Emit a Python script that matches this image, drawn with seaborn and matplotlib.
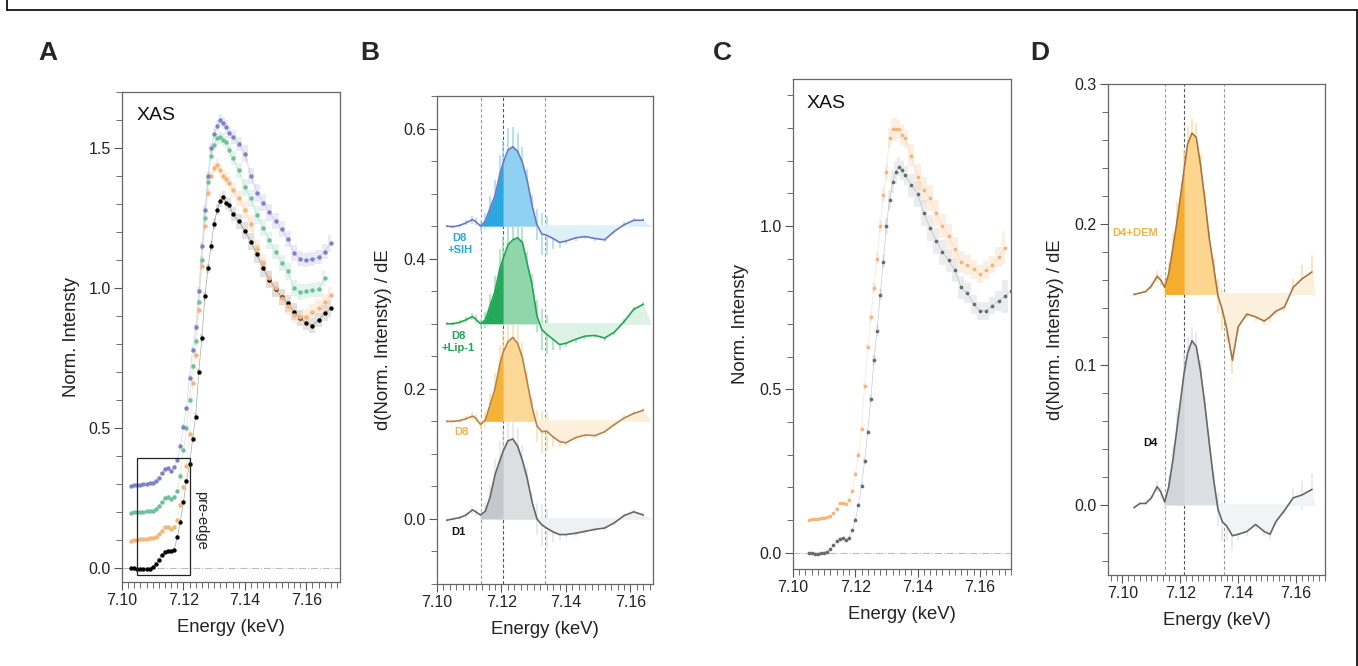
import numpy as np
import matplotlib
matplotlib.use('Agg')
import matplotlib.pyplot as plt
from matplotlib.lines import Line2D
from matplotlib.patches import Rectangle
from matplotlib.ticker import MultipleLocator, FormatStrFormatter
import seaborn as sns

sns.set_theme(style='white')
plt.rcParams['font.family'] = ['Liberation Sans', 'DejaVu Sans']

# ---------------- data ----------------
# Panel A: XAS spectra (offset by 0.1 each)
energy_a = [7.103, 7.104, 7.105, 7.106, 7.107, 7.108, 7.109, 7.110, 7.111, 7.112,
            7.113, 7.114, 7.115, 7.116, 7.117, 7.118, 7.119, 7.120, 7.121, 7.122,
            7.123, 7.124, 7.125, 7.126, 7.127, 7.128, 7.129, 7.130, 7.131, 7.132,
            7.133, 7.134, 7.135, 7.136, 7.138, 7.140, 7.142, 7.144, 7.146, 7.148,
            7.150, 7.152, 7.154, 7.156, 7.158, 7.160, 7.162, 7.164, 7.166, 7.168]
d1_xas = [0.000, 0.000, -0.003, -0.004, -0.004, -0.004, -0.002, 0.002, 0.015, 0.030,
          0.045, 0.058, 0.062, 0.062, 0.066, 0.110, 0.165, 0.235, 0.310, 0.370,
          0.460, 0.540, 0.700, 0.820, 0.970, 1.070, 1.150, 1.230, 1.280, 1.310,
          1.325, 1.302, 1.296, 1.265, 1.238, 1.205, 1.165, 1.120, 1.070, 1.030,
          0.995, 0.968, 0.945, 0.915, 0.893, 0.875, 0.866, 0.885, 0.910, 0.928]
d8_xas = [0.098, 0.100, 0.100, 0.102, 0.103, 0.105, 0.106, 0.108, 0.112, 0.120,
          0.132, 0.145, 0.148, 0.140, 0.148, 0.170, 0.225, 0.290, 0.365, 0.480,
          0.660, 0.760, 0.920, 1.080, 1.220, 1.340, 1.400, 1.430, 1.440, 1.420,
          1.400, 1.390, 1.375, 1.350, 1.320, 1.280, 1.230, 1.140, 1.090, 1.035,
          1.000, 0.965, 0.935, 0.905, 0.895, 0.898, 0.916, 0.930, 0.950, 0.975]
lip_xas = [0.198, 0.200, 0.200, 0.200, 0.201, 0.202, 0.203, 0.205, 0.210, 0.220,
           0.235, 0.250, 0.255, 0.245, 0.255, 0.275, 0.330, 0.420, 0.500, 0.600,
           0.720, 0.810, 0.950, 1.100, 1.250, 1.380, 1.470, 1.510, 1.535, 1.538,
           1.530, 1.520, 1.493, 1.464, 1.420, 1.360, 1.320, 1.260, 1.215, 1.170,
           1.130, 1.090, 1.060, 1.000, 0.985, 0.990, 0.993, 0.995, 1.035, np.nan]
sih_xas = [0.292, 0.295, 0.296, 0.298, 0.300, 0.301, 0.302, 0.305, 0.312, 0.322,
           0.338, 0.352, 0.356, 0.345, 0.362, 0.385, 0.435, 0.505, 0.570, 0.680,
           0.780, 0.860, 0.990, 1.150, 1.280, 1.400, 1.500, 1.550, 1.580, 1.600,
           1.590, 1.575, 1.555, 1.540, 1.515, 1.480, 1.400, 1.340, 1.305, 1.270,
           1.240, 1.210, 1.175, 1.125, 1.105, 1.100, 1.103, 1.110, 1.130, 1.160]
err_a = [0.004, 0.004, 0.004, 0.004, 0.004, 0.004, 0.004, 0.004, 0.005, 0.005,
         0.005, 0.006, 0.006, 0.006, 0.006, 0.007, 0.008, 0.008, 0.009, 0.010,
         0.010, 0.012, 0.012, 0.014, 0.015, 0.016, 0.018, 0.020, 0.020, 0.022,
         0.022, 0.024, 0.024, 0.025, 0.026, 0.030, 0.030, 0.032, 0.030, 0.030,
         0.028, 0.028, 0.030, 0.030, 0.028, 0.026, 0.026, 0.026, 0.028, 0.030]

# Panel B: first derivatives (offset by 0.15 each)
energy_b = [7.103, 7.105, 7.107, 7.109, 7.111, 7.112, 7.1135, 7.115, 7.1165, 7.118,
            7.1195, 7.1205, 7.122, 7.1235, 7.125, 7.1265, 7.128, 7.1295, 7.131, 7.1325,
            7.134, 7.136, 7.138, 7.140, 7.143, 7.146, 7.149, 7.152, 7.155, 7.158,
            7.161, 7.164]
d1_deriv = [-0.002, 0.000, 0.002, 0.006, 0.014, 0.011, 0.006, 0.012, 0.034, 0.068,
            0.090, 0.104, 0.120, 0.123, 0.112, 0.090, 0.062, 0.026, 0.000, -0.009,
            -0.014, -0.020, -0.024, -0.024, -0.022, -0.019, -0.016, -0.014, -0.006, 0.005,
            0.011, 0.006]
d8_deriv = [0.150, 0.150, 0.151, 0.154, 0.158, 0.155, 0.145, 0.152, 0.176, 0.200,
            0.238, 0.256, 0.272, 0.279, 0.270, 0.248, 0.210, 0.172, 0.143, 0.134,
            0.135, 0.126, 0.119, 0.117, 0.125, 0.129, 0.128, 0.134, 0.145, 0.155,
            0.162, 0.167]
lip_deriv = [0.300, 0.300, 0.302, 0.306, 0.311, 0.307, 0.300, 0.306, 0.328, 0.350,
             0.385, 0.400, 0.421, 0.429, 0.432, 0.425, 0.392, 0.360, 0.312, 0.291,
             0.284, 0.276, 0.268, 0.270, 0.276, 0.281, 0.282, 0.278, 0.287, 0.303,
             0.322, 0.330]
sih_deriv = [0.450, 0.449, 0.451, 0.455, 0.460, 0.457, 0.450, 0.458, 0.478, 0.497,
             0.530, 0.547, 0.567, 0.572, 0.565, 0.548, 0.520, 0.482, 0.452, 0.438,
             0.436, 0.431, 0.425, 0.427, 0.432, 0.434, 0.431, 0.429, 0.442, 0.452,
             0.459, 0.459]
err_b = [0.002, 0.002, 0.003, 0.004, 0.006, 0.006, 0.008, 0.012, 0.018, 0.024,
         0.030, 0.034, 0.034, 0.030, 0.028, 0.024, 0.018, 0.016, 0.024, 0.032,
         0.030, 0.016, 0.008, 0.005, 0.005, 0.004, 0.004, 0.004, 0.004, 0.004,
         0.004, 0.004]
baselines_b = [0.0, 0.15, 0.30, 0.45]
edges_b = [7.1135, 7.1205, 7.1335]

# Panel C: XAS D4 / D4+DEM
energy_c = [7.105, 7.106, 7.107, 7.108, 7.109, 7.110, 7.111, 7.112, 7.113, 7.114,
            7.115, 7.116, 7.117, 7.118, 7.119, 7.120, 7.121, 7.122, 7.123, 7.124,
            7.125, 7.126, 7.127, 7.128, 7.129, 7.130, 7.131, 7.132, 7.133, 7.134,
            7.135, 7.136, 7.138, 7.140, 7.142, 7.144, 7.146, 7.148, 7.150, 7.152,
            7.154, 7.156, 7.158, 7.160, 7.162, 7.164, 7.166, 7.168, 7.170]
d4_xas = [0.000, -0.002, -0.003, -0.003, -0.002, 0.000, 0.003, 0.010, 0.022, 0.035,
          0.043, 0.044, 0.038, 0.045, 0.068, 0.100, 0.145, 0.205, 0.280, 0.370,
          0.470, 0.590, 0.680, 0.790, 0.890, 1.000, 1.080, 1.135, 1.165, 1.182,
          1.170, 1.155, 1.125, 1.098, 1.040, 0.995, 0.955, 0.920, 0.895, 0.865,
          0.812, 0.795, 0.760, 0.740, 0.740, 0.756, 0.770, 0.785, 0.800]
dem_xas = [0.100, 0.102, 0.103, 0.104, 0.105, 0.107, 0.109, 0.112, 0.120, 0.135,
           0.152, 0.152, 0.148, 0.162, 0.190, 0.240, 0.300, 0.380, 0.510, 0.630,
           0.720, 0.810, 0.900, 1.000, 1.095, 1.165, 1.270, 1.296, 1.296, 1.296,
           1.278, 1.268, 1.215, 1.150, 1.110, 1.085, 1.040, 1.000, 0.970, 0.930,
           0.890, 0.880, 0.867, 0.852, 0.865, 0.882, 0.905, 0.934, np.nan]
err_c = [0.004, 0.004, 0.004, 0.004, 0.004, 0.004, 0.004, 0.004, 0.004, 0.004,
         0.004, 0.004, 0.004, 0.004, 0.005, 0.006, 0.007, 0.008, 0.009, 0.010,
         0.012, 0.014, 0.016, 0.018, 0.020, 0.025, 0.030, 0.035, 0.035, 0.030,
         0.030, 0.030, 0.035, 0.040, 0.040, 0.040, 0.040, 0.038, 0.036, 0.035,
         0.035, 0.030, 0.030, 0.028, 0.028, 0.026, 0.030, 0.050, 0.000]

# Panel D: first derivatives D4 / D4+DEM
energy_d = [7.104, 7.106, 7.108, 7.110, 7.112, 7.1133, 7.1146, 7.116, 7.1175, 7.119,
            7.1213, 7.1225, 7.124, 7.1255, 7.127, 7.1285, 7.130, 7.1315, 7.133, 7.1345,
            7.136, 7.138, 7.140, 7.143, 7.146, 7.149, 7.151, 7.153, 7.156, 7.159,
            7.162, 7.1655]
d4_deriv = [-0.002, 0.001, 0.001, 0.005, 0.013, 0.009, 0.002, 0.013, 0.033, 0.057,
            0.094, 0.108, 0.117, 0.113, 0.095, 0.071, 0.044, 0.018, -0.003, -0.012,
            -0.015, -0.022, -0.021, -0.019, -0.014, -0.019, -0.021, -0.012, -0.004, 0.005,
            0.007, 0.011]
dem_deriv = [0.150, 0.151, 0.152, 0.156, 0.163, 0.160, 0.155, 0.165, 0.184, 0.204,
             0.239, 0.257, 0.265, 0.262, 0.242, 0.217, 0.190, 0.170, 0.149, 0.139,
             0.126, 0.103, 0.127, 0.136, 0.134, 0.131, 0.134, 0.138, 0.141, 0.155,
             0.161, 0.166]
err_d = [0.001, 0.001, 0.001, 0.002, 0.004, 0.004, 0.005, 0.008, 0.010, 0.012,
         0.014, 0.012, 0.010, 0.010, 0.008, 0.006, 0.005, 0.006, 0.012, 0.014,
         0.010, 0.010, 0.004, 0.003, 0.003, 0.003, 0.004, 0.003, 0.003, 0.006,
         0.010, 0.012]
baselines_d = [0.0, 0.15]
edges_d = [7.1146, 7.1213, 7.135]

W, H = 1358, 666
fig = plt.figure(figsize=(W / 100, H / 100), dpi=100)


def px_axes(left, top, right, bottom):
    return fig.add_axes([left / W, 1 - bottom / H, (right - left) / W, (bottom - top) / H])


def style(ax, xlim, ylim, ymaj, ymin, ylabel, ypad):
    ax.set_xlim(*xlim)
    ax.set_ylim(*ylim)
    ax.xaxis.set_major_locator(MultipleLocator(0.02))
    ax.xaxis.set_minor_locator(MultipleLocator(0.002))
    ax.yaxis.set_major_locator(MultipleLocator(ymaj))
    ax.yaxis.set_minor_locator(MultipleLocator(ymin))
    ax.xaxis.set_major_formatter(FormatStrFormatter('%.2f'))
    ax.yaxis.set_major_formatter(FormatStrFormatter('%.1f'))
    ax.tick_params(which='both', direction='out', left=True, bottom=True,
                   color='#555555', labelcolor='#222222', labelsize=11.5, pad=2)
    ax.tick_params(which='major', length=6, width=0.8)
    ax.tick_params(which='minor', length=4, width=0.6)
    for s in ax.spines.values():
        s.set_color('#666666')
        s.set_linewidth(0.9)
    ax.set_xlabel('Energy (keV)', fontsize=13.3, labelpad=8, color='#222222')
    ax.set_ylabel(ylabel, fontsize=13.3, labelpad=ypad, color='#222222')
    ax.grid(False)


def xas_panel(ax, energy, series, err, size):
    e = np.array(energy)
    for vals, col, band in series:
        v = np.array(vals)
        ax.fill_between(e, v - np.array(err), v + np.array(err), step='mid',
                        color=band, alpha=0.35, lw=0, zorder=1)
        ax.plot(e, v, color=col, lw=0.5, alpha=0.35, zorder=2)
        sns.scatterplot(x=e, y=v, ax=ax, color=col, s=size, linewidth=0, zorder=3)
    ax.axhline(0, color='#bbbbbb', lw=0.8, ls='-.', zorder=0)


def deriv_panel(ax, energy, series, err, edges, xend):
    e = np.array(energy)
    for vals, base, line_col, mid_col, dark_col, pale_col in series:
        v = np.array(vals)
        ax.errorbar(e, v, yerr=err, fmt='none', ecolor=mid_col, elinewidth=1.3,
                    alpha=0.7, zorder=1)
        ax.fill_between(e, base, v, where=e >= edges[1], color=pale_col, lw=0, zorder=1)
        ax.fill_between(e, base, v, where=(e >= edges[1]) & (v >= base) & (e <= edges[2]),
                        interpolate=True, color=mid_col, lw=0, zorder=2)
        ax.fill_between(e, base, v, where=(e >= edges[0]) & (e <= edges[1]) & (v >= base),
                        interpolate=True, color=dark_col, lw=0, zorder=2)
        ax.fill_between([e[-1], xend], [base, base], [v[-1], base], color=pale_col,
                        lw=0, zorder=1)
        ax.plot([edges[0], xend], [base, base], color=pale_col, lw=1.2, zorder=1)
        sns.lineplot(x=e, y=v, ax=ax, color=line_col, linewidth=1.2, zorder=4)
    for i, x in enumerate(edges):
        ax.axvline(x, color='#555555' if i == 1 else '#999999', lw=0.8,
                   ls=(0, (3, 2)), zorder=0)


# ---------------- Panel A ----------------
ax_a = px_axes(122, 92, 340, 582)
xas_panel(ax_a, energy_a,
          [(d1_xas, '#000000', '#aaaaaa'),
           (d8_xas, '#f5b57a', '#f8cfa8'),
           (lip_xas, '#6cc09c', '#b3e0cc'),
           (sih_xas, '#7d82c8', '#c1c4e8')],
          err_a, 10)
ax_a.add_patch(Rectangle((7.105, -0.025), 0.0173, 0.417, fill=False,
                         ec='#222222', lw=0.9, zorder=5))
ax_a.text(7.1258, 0.171, 'pre-edge', rotation=270, ha='center', va='center',
          fontsize=10.5, color='#222222')
ax_a.text(0.065, 0.953, 'XAS', transform=ax_a.transAxes, fontsize=14,
          va='center', ha='left', color='#111111')
style(ax_a, (7.10, 7.171), (-0.05, 1.70), 0.5, 0.1, 'Norm. Intensty', 6)

# ---------------- Panel B ----------------
ax_b = px_axes(437, 96, 653, 584)
deriv_panel(ax_b, energy_b,
            [(d1_deriv, baselines_b[0], '#666666', '#dcdee2', '#c4c7cd', '#eef0f2'),
             (d8_deriv, baselines_b[1], '#b8824a', '#fcd897', '#f6b33a', '#fcefdc'),
             (lip_deriv, baselines_b[2], '#1fa84f', '#90d5ab', '#26a85a', '#dcf2e5'),
             (sih_deriv, baselines_b[3], '#6f78c6', '#8ed1f0', '#2ca6de', '#def1fb')],
            err_b, edges_b, 7.1665)
for txt, x, y, col in [('D8\n+SIH', 7.107, 0.423, '#2aa6df'),
                       ('D8\n+Lip-1', 7.1066, 0.272, '#1ba653'),
                       ('D8', 7.1076, 0.134, '#f2b33d'),
                       ('D1', 7.1066, -0.020, '#111111')]:
    ax_b.text(x, y, txt, color=col, fontsize=8, fontweight='bold',
              ha='center', va='center', linespacing=1.3)
style(ax_b, (7.10, 7.167), (-0.10, 0.65), 0.2, 0.05, 'd(Norm. Intensty) / dE', 8)

# ---------------- Panel C ----------------
ax_c = px_axes(793, 79, 1011, 569)
xas_panel(ax_c, energy_c,
          [(d4_xas, '#6a6a6a', '#c8cacd'),
           (dem_xas, '#f4b47a', '#f8d2ad')],
          err_c, 7)
ax_c.text(0.06, 0.951, 'XAS', transform=ax_c.transAxes, fontsize=14,
          va='center', ha='left', color='#111111')
style(ax_c, (7.10, 7.17), (-0.05, 1.45), 0.5, 0.1, 'Norm. Intensty', 8)

# ---------------- Panel D ----------------
ax_d = px_axes(1108, 84, 1325, 575)
deriv_panel(ax_d, energy_d,
            [(d4_deriv, baselines_d[0], '#666666', '#dcdfe3', '#d2d5da', '#f2f3f5'),
             (dem_deriv, baselines_d[1], '#a97440', '#fcd68e', '#f3ae2f', '#fcefdc')],
            err_d, edges_d, 7.1665)
ax_d.text(7.0965, 0.1936, 'D4+DEM', color='#f2b33d', fontsize=8, fontweight='bold',
          ha='left', va='center')
ax_d.text(7.1097, 0.044, 'D4', color='#111111', fontsize=8, fontweight='bold',
          ha='center', va='center')
style(ax_d, (7.095, 7.17), (-0.05, 0.30), 0.1, 0.02, 'd(Norm. Intensty) / dE', 8)

# panel letters
for letter, x in [('A', 48), ('B', 370), ('C', 722), ('D', 1040)]:
    fig.text(x / W, 1 - 53 / H, letter, fontsize=19, fontweight='bold',
             ha='center', va='center')

# outer frame
for xs, ys in [([7, 7], [0, 9.5]), ([7, 1357], [9.5, 9.5]), ([1357, 1357], [9.5, 666])]:
    fig.add_artist(Line2D([x / W for x in xs], [1 - y / H for y in ys],
                          transform=fig.transFigure, color='black', lw=1.2))

fig.savefig('out.png', dpi=100)
